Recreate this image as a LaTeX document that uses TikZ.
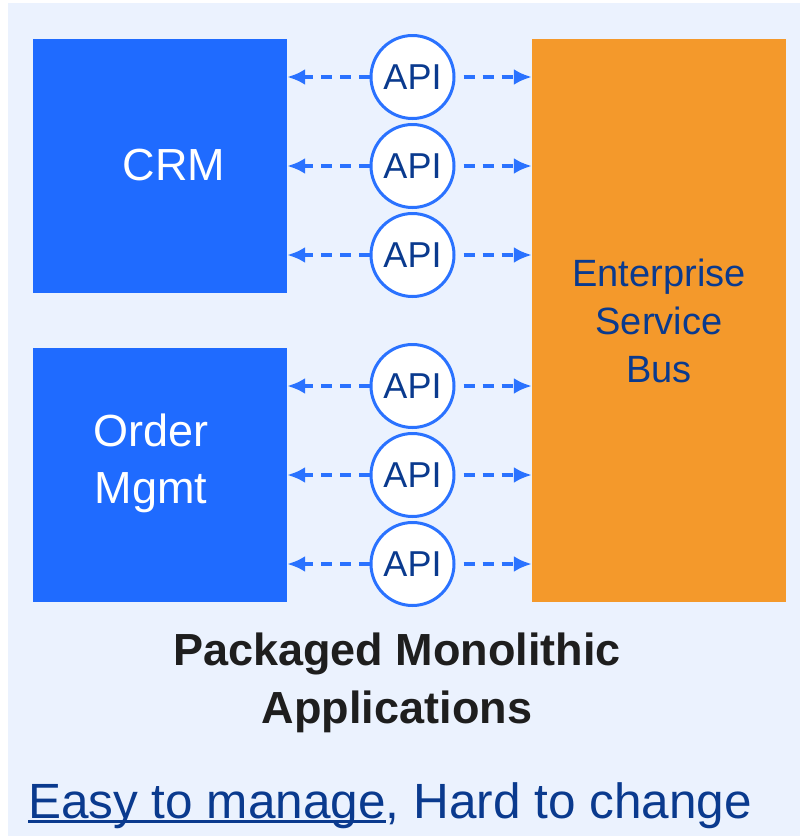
\documentclass[tikz,border=0pt]{standalone}
\usepackage{fontspec}
\setmainfont{Liberation Sans}
\usetikzlibrary{positioning}
\usetikzlibrary{arrows.meta}

\definecolor{bg}{HTML}{EBF2FE}
\definecolor{appblue}{HTML}{1F6BFF}
\definecolor{linkblue}{HTML}{2A72FF}
\definecolor{busorange}{HTML}{F4992B}
\definecolor{navy}{HTML}{0A3A8E}
\definecolor{ink}{HTML}{1E1E1E}
\newcommand{\easyline}[1]{\setbox0\hbox{#1}\rlap{\rule[-4.5pt]{\wd0}{2.2pt}}\box0}

\begin{document}
\begin{tikzpicture}[x=1pt, y=-1pt]
  \tikzstyle{app}=[rectangle, fill=appblue, minimum size=254pt, inner sep=0pt]
  \tikzstyle{apptext}=[text=white, font=\fontsize{45}{57}\selectfont, align=center, inner sep=0pt]
  \tikzstyle{bus}=[rectangle, fill=busorange, minimum width=254pt, minimum height=563pt, text=navy, font=\fontsize{38}{48}\selectfont, align=center, inner sep=0pt]
  \tikzstyle{api}=[circle, draw=linkblue, line width=3pt, fill=white, minimum size=83pt, inner sep=0pt, text=navy, font=\fontsize{36}{36}\selectfont]
  \tikzstyle{link}=[draw=linkblue, line width=3.8pt, dash pattern=on 11pt off 8pt, -{Latex[length=18pt,width=16pt]}]
  \tikzstyle{tobus}=[link, dash phase=11pt]
  \useasboundingbox (0,0) rectangle (800,836);
  \fill[bg] (8,3) rectangle (800,836);
  \node [app] at (160,166) (crm) {};
  \node [app] [below=55pt of crm] (order) {};
  \node [bus] at (659,320.5) (bus) {Enterprise\\Service\\Bus};
  \node [apptext] at ([xshift=14pt, yshift=1pt]crm.center) (crmtext) {CRM};
  \node [apptext] at ([xshift=-9pt, yshift=12pt]order.center) (ordertext) {Order\\Mgmt};
  \node [api] at (412.5,166) (api2) {API};
  \node [api] [above=3pt of api2] (api1) {API};
  \node [api] [below=3pt of api2] (api3) {API};
  \node [api] at (412.5,475) (api5) {API};
  \node [api] [above=3pt of api5] (api4) {API};
  \node [api] [below=3pt of api5] (api6) {API};
  \draw[link] (api1) -- (api1 -| crm.east);
  \draw[link] (api2) -- (api2 -| crm.east);
  \draw[link] (api3) -- (api3 -| crm.east);
  \draw[link] (api4) -- (api4 -| order.east);
  \draw[link] (api5) -- (api5 -| order.east);
  \draw[link] (api6) -- (api6 -| order.east);
  \draw[tobus] (api1) -- (api1 -| bus.west);
  \draw[tobus] (api2) -- (api2 -| bus.west);
  \draw[tobus] (api3) -- (api3 -| bus.west);
  \draw[tobus] (api4) -- (api4 -| bus.west);
  \draw[tobus] (api5) -- (api5 -| bus.west);
  \draw[tobus] (api6) -- (api6 -| bus.west);
  \node [text=ink, font=\bfseries\fontsize{45}{58}\selectfont, align=center, inner sep=0pt] at (397,683) (title) {Packaged Monolithic\\Applications};
  \node [text=navy, font=\fontsize{49.5}{50}\selectfont, inner sep=0pt, anchor=base west] at (28,818) (motto) {\easyline{Easy to manage}, Hard to change};
\end{tikzpicture}
\end{document}
